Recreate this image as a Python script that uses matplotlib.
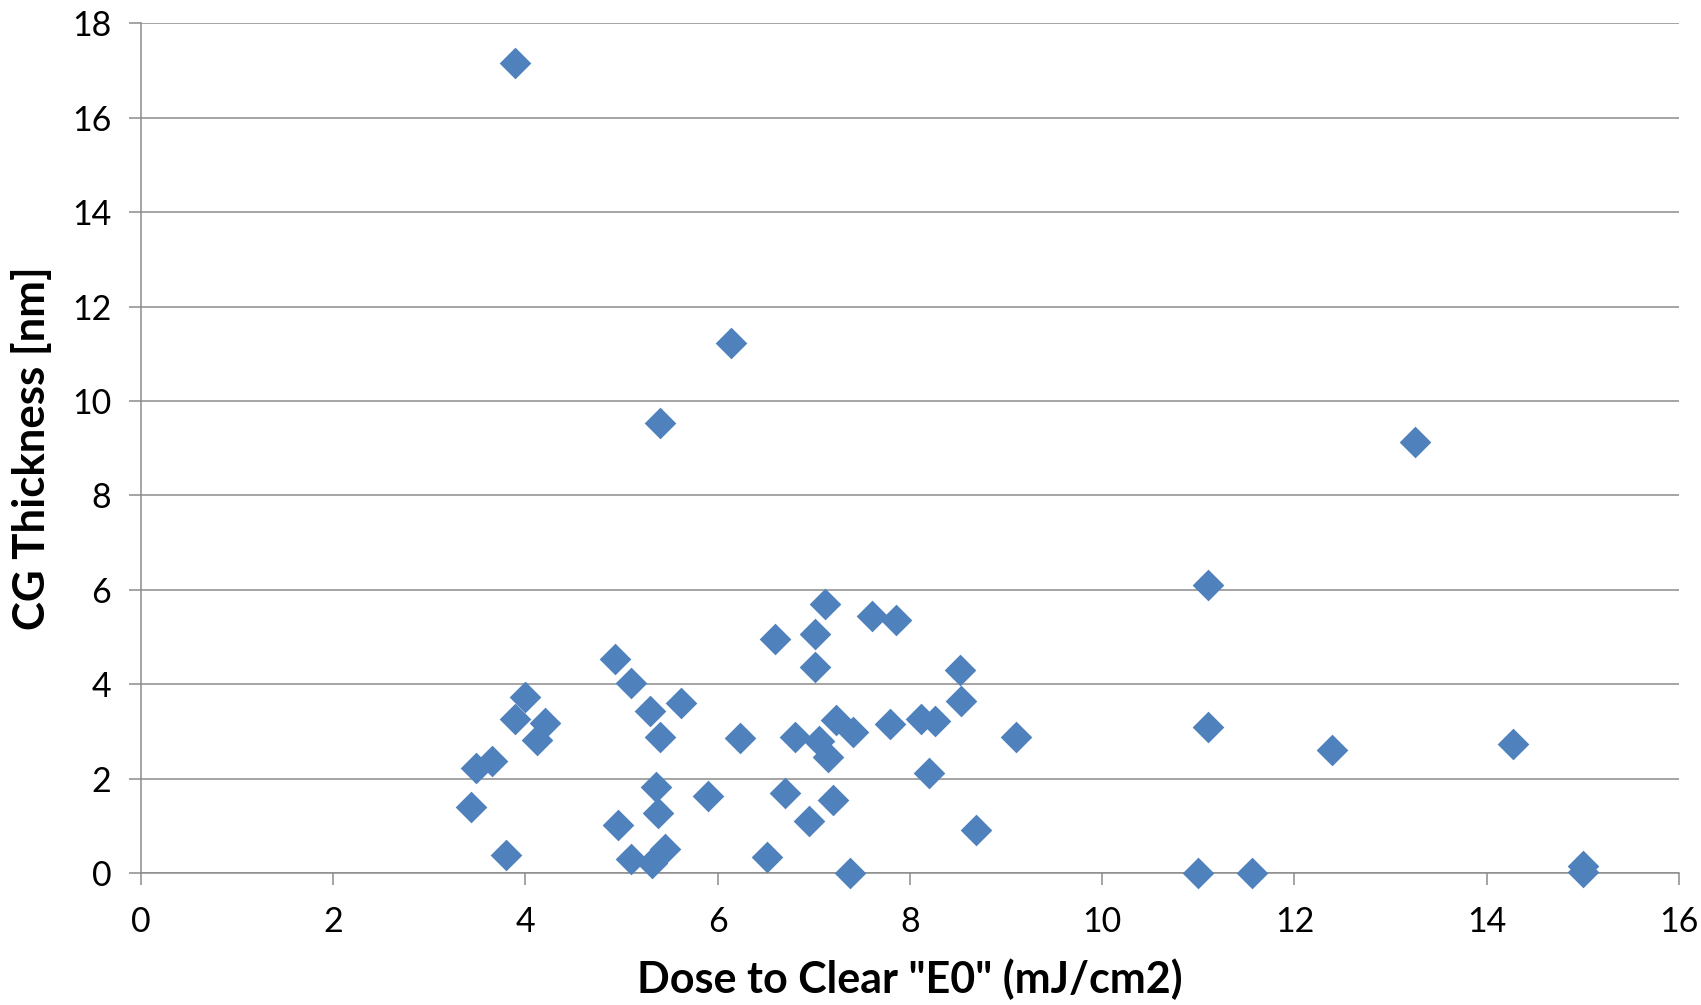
import matplotlib.pyplot as plt

# dose to clear E0 (mJ/cm2) vs CG thickness (nm)
dose = [3.89, 6.14, 5.40, 13.25, 11.10, 7.12, 7.60, 7.86, 6.60, 7.01,
        4.93, 7.01, 8.52, 5.10, 4.00, 8.53, 5.62, 5.30, 3.89, 4.20,
        7.23, 8.11, 8.26, 7.79, 11.10, 7.41, 6.23, 6.80, 5.40, 9.10,
        4.12, 7.05, 14.27, 12.39, 7.15, 3.65, 3.49, 8.20, 5.36, 6.70,
        5.90, 7.20, 3.43, 5.38, 6.95, 4.96, 8.69, 5.45, 3.80, 6.51,
        5.10, 5.32, 15.00, 7.38, 11.00, 11.56, 15.00]
thickness = [17.15, 11.23, 9.53, 9.14, 6.10, 5.71, 5.45, 5.37, 4.97, 5.06,
             4.53, 4.37, 4.30, 4.04, 3.74, 3.65, 3.61, 3.43, 3.26, 3.19,
             3.24, 3.26, 3.23, 3.17, 3.10, 3.00, 2.86, 2.88, 2.88, 2.88,
             2.82, 2.81, 2.73, 2.61, 2.47, 2.38, 2.22, 2.12, 1.83, 1.71,
             1.64, 1.55, 1.41, 1.28, 1.11, 1.02, 0.92, 0.51, 0.38, 0.34,
             0.30, 0.22, 0.15, 0.00, 0.00, 0.00, 0.02]

x_ticks = [0, 2, 4, 6, 8, 10, 12, 14, 16]
y_ticks = [0, 2, 4, 6, 8, 10, 12, 14, 16, 18]

grey = '#8c8c8c'
blue = '#4f81bd'

plt.rcParams['font.family'] = ['Lato', 'DejaVu Sans']

fig = plt.figure(figsize=(17.01, 10.05), dpi=100)
ax = fig.add_axes([0.0829, 0.131, 0.9041, 0.846])

ax.scatter(dose, thickness, marker='D', s=260, color=blue, linewidths=0,
           zorder=3, clip_on=False)

ax.set_xlim(0, 16)
ax.set_ylim(0, 18)
ax.set_xticks(x_ticks)
ax.set_yticks(y_ticks)
ax.grid(True, axis='y', color=grey, linewidth=1.1)
ax.set_axisbelow(True)

for side in ['top', 'right']:
    ax.spines[side].set_visible(False)
for side in ['left', 'bottom']:
    ax.spines[side].set_color(grey)
    ax.spines[side].set_linewidth(1.1)

ax.tick_params(axis='both', colors=grey, length=8.5, width=1.1,
               labelsize=24.5, labelcolor='black')
ax.tick_params(axis='y', pad=13)
ax.tick_params(axis='x', pad=15)

ax.set_xlabel('Dose to Clear "E0" (mJ/cm2)', fontsize=31, fontweight='bold')
ax.set_ylabel('CG Thickness [nm]', fontsize=31.5, fontweight='bold')
ax.xaxis.set_label_coords(0.5, -0.1)
ax.yaxis.set_label_coords(-0.058, 0.5)

fig.savefig('out.png', dpi=100)
